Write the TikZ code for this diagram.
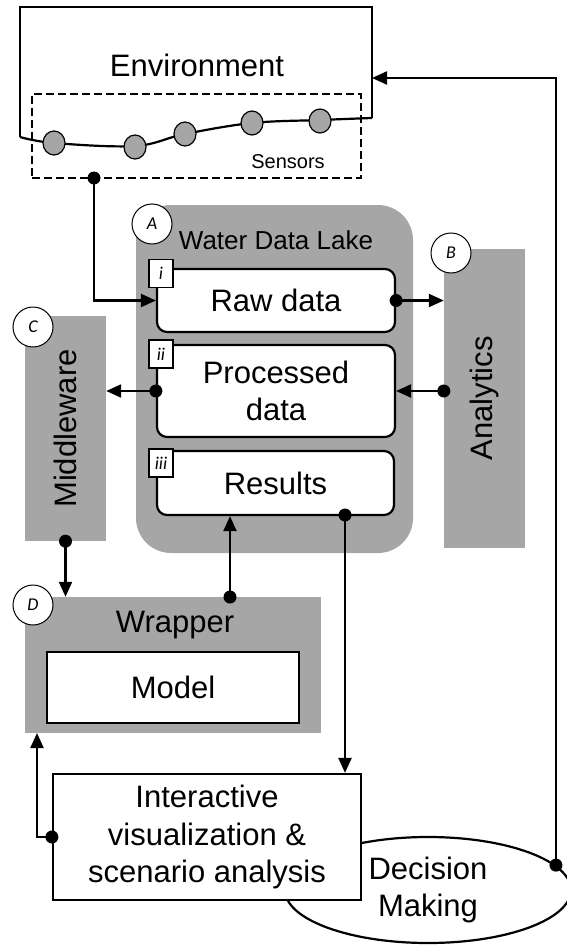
\documentclass[tikz,border=0pt]{standalone}
\usepackage{fontspec}
\setmainfont{Liberation Sans}
\newfontfamily\tagfamily{Carlito}
\usetikzlibrary{arrows.meta,backgrounds,shapes.geometric}
\definecolor{lakegray}{RGB}{166,166,166}
\newcommand{\bigtxt}{\fontsize{31}{37.5}\selectfont}
\newcommand{\midtxt}{\fontsize{26}{31}\selectfont}
\newcommand{\smalltxt}{\fontsize{20}{24}\selectfont}
\newcommand{\tagtxt}{\tagfamily\itshape\fontsize{18}{20}\selectfont}

\begin{document}
\begin{tikzpicture}[%
    x=1pt,y=-1pt,%
    show background rectangle,%
    tight background,%
    background rectangle/.style={fill=white}%
    ]
    \useasboundingbox (0,0) rectangle (566,947);%

    %
    % Définitions
    %
    \pgfmathsetmacro{\xg}{276};%
    \pgfmathsetmacro{\yraw}{300.5};%
    \pgfmathsetmacro{\ypro}{391};%
    \pgfmathsetmacro{\yres}{483};%
    \pgfmathsetmacro{\xtag}{161};%

    %
    % Styles
    %
    \tikzset{%
      fleche/.style={line width=2.2pt,-{Triangle[length=15pt,width=13pt]}},%
      bloc/.style={fill=lakegray,inner sep=0pt},%
      boite/.style={draw,line width=2.2pt,fill=white,inner sep=0pt,align=center,font=\bigtxt},%
      stock/.style={boite,rounded corners=10pt},%
      etiquette/.style={draw,line width=1.2pt,fill=white,inner sep=0pt,minimum width=24pt,minimum height=28pt,font=\tagtxt},%
      pastille/.style={circle,draw,line width=1pt,fill=white,minimum size=40pt,inner sep=0pt,font=\tagtxt},%
      capteur/.style={ellipse,draw,line width=1.2pt,fill=lakegray,minimum width=22pt,minimum height=24pt,inner sep=0pt}%
    }%

    %
    % Coordonnées
    %
    \coordinate (envin) at (372,78);%
    \coordinate (sensout) at (94,178);%
    \coordinate (wrapout) at (230,597);%
    \coordinate (wrapin) at (37,733);%
    \coordinate (resout) at (345,515);%

    %
    % Dessin
    %
    % Environnement
    \draw[line width=2.2pt] (372,118) -- (372,7) -- (20,7) -- (20,137);%
    \node[font=\bigtxt] (envtext) at (197,65) {Environment};%
    \node[draw,dash pattern=on 8pt off 4pt,line width=2.2pt,minimum width=329pt,minimum height=84pt] (sensors) at (196.5,136) {};%
    \draw[line width=2.2pt] plot[smooth,tension=0.6] coordinates {(20,137) (54,143) (135,146) (185,134) (252,123) (320,120) (372,118)};%
    \foreach \xs/\ys [count=\n] in {54/143,135/147,185/134,252/123,320/121}
      \node[capteur] (capteur\n) at (\xs,\ys) {};%
    \node[font=\smalltxt] (senslabel) at (288,162) {Sensors};%

    % Lac de données
    \node[bloc,rounded corners=35pt,minimum width=277pt,minimum height=348pt] (lake) at (274.5,379) {};%
    \node[font=\midtxt] (laketitle) at (\xg,240) {Water Data Lake};%
    \node[stock,minimum width=238pt,minimum height=63pt] (raw) at (\xg,\yraw) {Raw data};%
    \node[stock,minimum width=238pt,minimum height=92pt] (processed) at (\xg,\ypro) {Processed\\data};%
    \node[stock,minimum width=237pt,minimum height=64pt] (results) at (275.5,\yres) {Results};%
    \node[etiquette] (tagi) at (\xtag,273.5) {i};%
    \node[etiquette] (tagii) at (\xtag,354) {ii};%
    \node[etiquette] (tagiii) at (\xtag,463) {iii};%
    \node[pastille] (badgeA) at (152,224) {A};%

    % Analytics et Middleware
    \node[bloc,minimum width=81pt,minimum height=299pt] (analytics) at (484.5,398.5) {};%
    \node[font=\bigtxt,rotate=90] (analyticslabel) at (analytics.center) {Analytics};%
    \node[pastille] (badgeB) at (451,253) {B};%
    \node[bloc,minimum width=81pt,minimum height=225pt] (middleware) at (65.5,428.5) {};%
    \node[font=\bigtxt,rotate=90] (middlewarelabel) at (middleware.center) {Middleware};%
    \node[pastille] (badgeC) at (33,327) {C};%

    % Wrapper
    \node[bloc,minimum width=296pt,minimum height=136pt] (wrapper) at (173,665) {};%
    \node[font=\bigtxt] (wrappertitle) at (175,625) {Wrapper};%
    \node[boite,minimum width=252pt,minimum height=71pt] (model) at (173,687.5) {Model};%
    \node[pastille] (badgeD) at (33,605) {D};%

    % Visualisation et décision
    \node[ellipse,draw,line width=2.2pt,fill=white,minimum width=286pt,minimum height=106pt,inner sep=0pt,align=center,font=\bigtxt] (decision) at (428,890) {Decision\\Making};%
    \node[boite,minimum width=308pt,minimum height=126pt] (interactive) at (207,837) {Interactive\\visualization \&\\scenario analysis};%
    \coordinate (decout) at (decision.11);%
    \coordinate (anaout) at (analytics.west |- processed.east);%

    % Flux
    \draw[fleche] (sensout) |- (raw.west);%
    \draw[fleche] (raw.east) -- (raw.east -| analytics.west);%
    \draw[fleche] (anaout) -- (processed.east);%
    \draw[fleche] (processed.west) -- (processed.west -| middleware.east);%
    \draw[fleche] (middleware.south) -- (middleware.south |- wrapper.north);%
    \draw[fleche] (wrapout) -- (wrapout |- results.south);%
    \draw[fleche] (resout) -- (resout |- interactive.north);%
    \draw[fleche] (interactive.west) -| (wrapin);%
    \draw[fleche] (decout) |- (envin);%
    \foreach \p in {sensout,raw.east,anaout,processed.west,middleware.south,wrapout,resout,interactive.west,decout}
      \fill (\p) circle[radius=6.5pt];%

\end{tikzpicture}
\end{document}
